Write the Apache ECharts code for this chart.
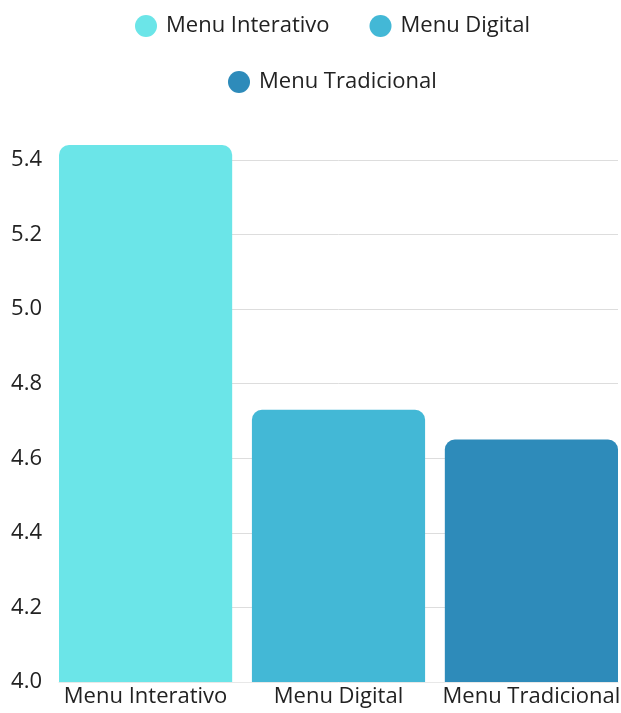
<!DOCTYPE html>
<html>
<head>
<meta charset="utf-8">
<script src="https://cdn.jsdelivr.net/npm/echarts@6/dist/echarts.min.js"></script>
<style>
html,body{margin:0;padding:0;background:#fff;}
#chart{width:621px;height:713px;}
</style>
</head>
<body>
<div id="chart"></div>
<script>
var seriesNames = ['Menu Interativo', 'Menu Digital', 'Menu Tradicional'];
var seriesValues = [5.44, 4.73, 4.65];
var seriesColors = ['#6be5e8', '#43b8d6', '#2e8bba'];
var yTicks = { min: 4.0, max: 5.44, interval: 0.2 };

var FONT = '"Open Sans", "Noto Sans", sans-serif';
var chart = echarts.init(document.getElementById('chart'), null, { renderer: 'canvas' });

var series = seriesNames.map(function (name, i) {
  return {
    name: name,
    type: 'bar',
    data: [seriesValues[i]],
    barGap: '11.4%',
    barCategoryGap: '0%',
    itemStyle: { color: seriesColors[i], borderRadius: [10, 10, 0, 0] },
    label: {
      show: true,
      position: 'bottom',
      distance: 4,
      formatter: name,
      color: '#222',
      fontSize: 22,
      fontFamily: FONT
    },
    emphasis: { disabled: true }
  };
});

chart.setOption({
  animation: false,
  backgroundColor: '#fff',
  legend: [
    {
      data: [seriesNames[0], seriesNames[1]],
      left: 135, top: 15, padding: 0,
      itemWidth: 30, itemHeight: 22, itemGap: 40,
      icon: 'circle',
      textStyle: { fontSize: 22, color: '#222', fontFamily: FONT }
    },
    {
      data: [seriesNames[2]],
      left: 228, top: 71, padding: 0,
      itemWidth: 30, itemHeight: 22, itemGap: 40,
      icon: 'circle',
      textStyle: { fontSize: 22, color: '#222', fontFamily: FONT }
    }
  ],
  grid: { left: 59, right: 3, top: 145, bottom: 31, containLabel: false },
  xAxis: {
    type: 'category',
    data: [''],
    axisLabel: { show: false },
    axisTick: { show: false },
    axisLine: { show: true, lineStyle: { color: '#e8e8e8', width: 1 } }
  },
  yAxis: {
    type: 'value',
    min: yTicks.min,
    max: yTicks.max,
    interval: yTicks.interval,
    axisLine: { show: false },
    axisTick: { show: false },
    axisLabel: {
      showMaxLabel: false,
      margin: 17,
      color: '#222',
      fontSize: 22,
      fontFamily: FONT,
      formatter: function (v) { return v.toFixed(1); }
    },
    splitLine: { show: true, showMaxLine: false, showMinLine: false, lineStyle: { color: '#dddddd', width: 1 } }
  },
  series: series
});
</script>
</body>
</html>
